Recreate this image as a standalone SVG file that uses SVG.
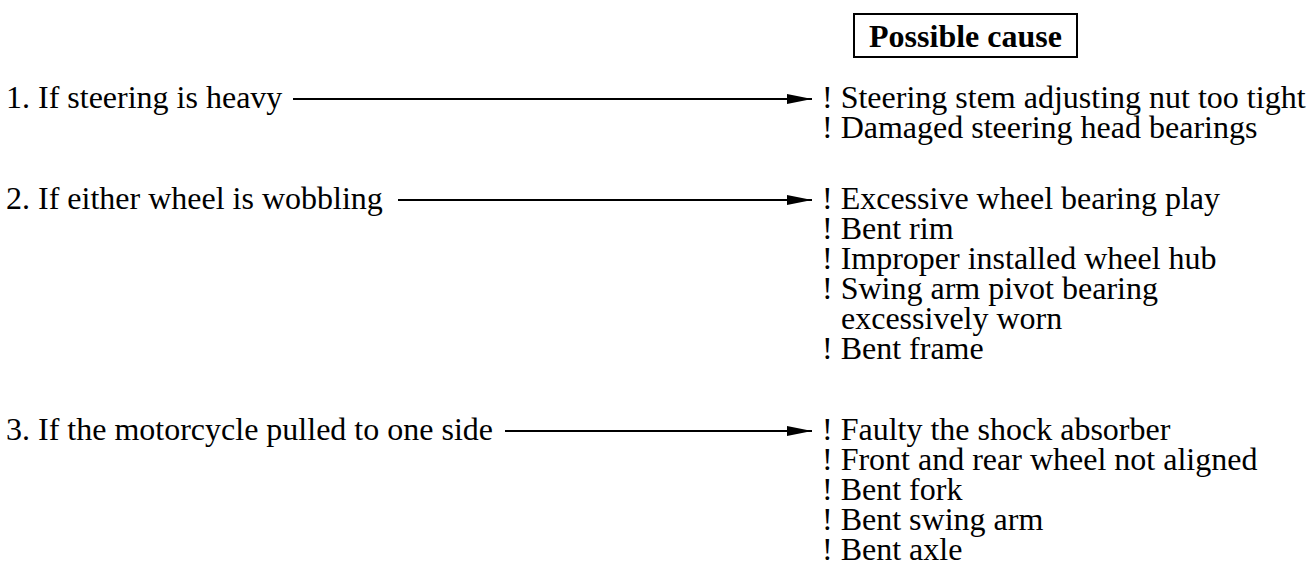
<svg xmlns="http://www.w3.org/2000/svg" width="1311" height="561" viewBox="0 0 1311 561">
<style>
text{font-family:"Liberation Serif","Times New Roman",serif;font-size:32px;fill:#000}
.h{font-weight:bold}
.c{stroke:#000;stroke-width:2;fill:none}
</style>
<defs>
<marker id="ah" markerUnits="userSpaceOnUse" markerWidth="26" markerHeight="12" refX="25" refY="6" orient="auto">
<path d="M0,1 L25,6 L0,11 Z" fill="#000"/>
</marker>
</defs>
<rect width="1311" height="561" fill="#fff"/>
<g id="header">
<rect x="854" y="14" width="223" height="43" fill="none" stroke="#000" stroke-width="2"/>
<text class="h" x="965.5" y="47" text-anchor="middle">Possible cause</text>
</g>
<g id="q1"><text x="6" y="108">1. If steering is heavy</text></g>
<g id="q2"><text x="6" y="209">2. If either wheel is wobbling</text></g>
<g id="q3"><text x="6" y="440">3. If the motorcycle pulled to one side</text></g>
<g id="c1">
<text x="822" y="108">! Steering stem adjusting nut too tight</text>
<text x="822" y="138">! Damaged steering head bearings</text>
</g>
<g id="c2">
<text x="822" y="209">! Excessive wheel bearing play</text>
<text x="822" y="239">! Bent rim</text>
<text x="822" y="269">! Improper installed wheel hub</text>
<text x="822" y="299">! Swing arm pivot bearing</text>
<text x="841" y="329">excessively worn</text>
<text x="822" y="359">! Bent frame</text>
</g>
<g id="c3">
<text x="822" y="440">! Faulty the shock absorber</text>
<text x="822" y="470">! Front and rear wheel not aligned</text>
<text x="822" y="500">! Bent fork</text>
<text x="822" y="530">! Bent swing arm</text>
<text x="822" y="560">! Bent axle</text>
</g>
<g id="connectors">
<line class="c" x1="293" y1="99" x2="812" y2="99" marker-end="url(#ah)"/>
<line class="c" x1="398" y1="200" x2="812" y2="200" marker-end="url(#ah)"/>
<line class="c" x1="505" y1="431" x2="812" y2="431" marker-end="url(#ah)"/>
</g>
</svg>
